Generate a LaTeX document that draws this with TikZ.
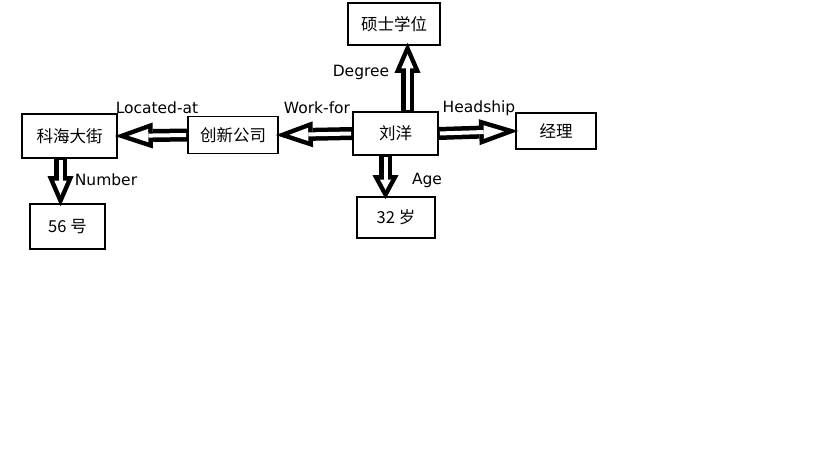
\documentclass[tikz,border=0pt]{standalone}
\usepackage{fontspec}
\setmainfont{DejaVu Sans}
\newfontfamily\cjk{Noto Sans CJK SC}
\usetikzlibrary{arrows.meta,calc}

\tikzset{
  ent/.style={draw,line width=1.6pt,inner sep=0pt,
    font=\cjk\fontsize{16.5}{17}\selectfont},
  rel/.style={inner sep=0pt,font=\fontsize{15.5}{16}\selectfont},
  fatline/.style={line width=13pt,shorten >=-3pt},
  fatcore/.style={white,line width=4pt,shorten <=1pt}
}
% hollow block arrow: {head length}{from}{to}
\newcommand{\hollow}[3]{%
  \pgfmathsetmacro\ahl{#1}%
  \pgfmathsetmacro\ahd{4.5/sin(atan(13/\ahl))}%
  \pgfmathsetmacro\ail{\ahl-4.5-\ahd}%
  \pgfmathsetmacro\aiw{26*\ail/\ahl}%
  \pgfmathsetmacro\ash{\ahd-3}%
  \draw[fatline,-{Triangle[length=\ahl pt,width=26pt,line width=0pt]}] (#2) -- (#3);
  \draw[fatcore,shorten >=\ash pt,
    -{Triangle[length=\ail pt,width=\aiw pt,line width=0pt]}] (#2) -- (#3);
}

\begin{document}
\begin{tikzpicture}[x=1pt,y=-1pt]
  \useasboundingbox (0,0) rectangle (819,460);
  % entities
  \node[ent,minimum width=92pt,minimum height=42pt] (shuoshi) at (394,24) {硕士学位};
  \node[ent,minimum width=85pt,minimum height=43pt] (liuyang) at (395.5,133.5) {刘洋};
  \node[ent,minimum width=80pt,minimum height=36pt] (jingli) at (556,131) {经理};
  \node[ent,minimum width=78pt,minimum height=41pt] (age32) at (396,217.5) {32 岁};
  \node[ent,minimum width=90pt,minimum height=37pt] (chuangxin) at (233,135) {创新公司};
  \node[ent,minimum width=95pt,minimum height=44pt] (kehai) at (69.5,136) {科海大街};
  \node[ent,minimum width=75pt,minimum height=45pt] (hao56) at (67.5,226.5) {56 号};
  % relations
  \coordinate (dg) at ([xshift=12pt]liuyang.north);
  \coordinate (ag) at ([xshift=-10pt]liuyang.south);
  \coordinate (nb) at ([xshift=-9pt]kehai.south);
  \hollow{30}{dg}{dg |- shuoshi.south}
  \hollow{39}{liuyang.east}{jingli.west}
  \hollow{24}{ag}{ag |- age32.north}
  \hollow{37}{liuyang.west}{chuangxin.east}
  \hollow{38}{chuangxin.west}{kehai.east}
  \hollow{30}{nb}{nb |- hao56.north}
  % labels
  \node[rel] (degree) at (361,72) {Degree};
  \node[rel] (headship) at (479,108) {Headship};
  \node[rel] (agelbl) at (427,180) {Age};
  \node[rel] (workfor) at (317,108) {Work-for};
  \node[rel] (located) at (157,108) {Located-at};
  \node[rel] (number) at (106,180) {Number};
\end{tikzpicture}
\end{document}
